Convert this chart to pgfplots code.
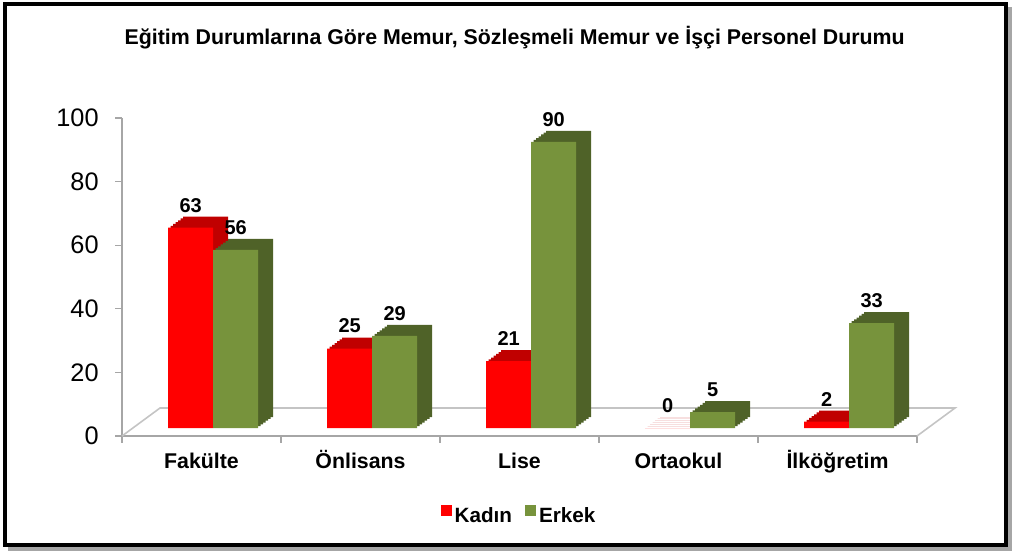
\documentclass[border=0pt]{standalone}
\usepackage{pgfplots}
\usepackage{pgfplotstable}
\pgfplotsset{compat=1.18}
\usepackage{fontspec}
\setmainfont{Liberation Sans}
\definecolor{kred}{HTML}{FF0000}
\definecolor{kredd}{HTML}{C00000}
\definecolor{egreen}{HTML}{77933C}
\definecolor{egreend}{HTML}{4F6228}
\definecolor{axgray}{HTML}{A6A6A6}
\definecolor{floorgray}{HTML}{C4C4C4}
\pgfplotstableread{
x kadin erkek
0 63 56
1 25 29
2 21 90
3 0 5
4 2 33
}\datatable
\begin{document}
\begin{tikzpicture}
\path[use as bounding box] (0,0) rectangle (759pt,413.25pt);
\draw[gray!70, line width=3pt] (6pt,1.5pt) -- (757.5pt,1.5pt) -- (757.5pt,408pt);
\draw[line width=3pt] (3.6pt,4.6pt) rectangle (754.8pt,410.2pt);
\node[font=\fontsize{16}{18}\selectfont\bfseries] at (386pt,384.75pt)
  {Eğitim Durumlarına Göre Memur, Sözleşmeli Memur ve İşçi Personel Durumu};
\begin{axis}[
  at={(91.5pt,86.25pt)}, anchor=south west,
  scale only axis, width=596.25pt, height=238.5pt,
  xmin=-0.5, xmax=4.5, ymin=0, ymax=100,
  axis x line*=bottom, axis y line*=left,
  axis line style={axgray, line width=1pt},
  xtick={0,1,2,3,4},
  xticklabels={Fakülte,Önlisans,Lise,Ortaokul,İlköğretim},
  major x tick style={draw=none},
  minor xtick={-0.5,0.5,1.5,2.5,3.5,4.5},
  ytick={0,20,40,60,80,100},
  tick align=outside,
  tick style={axgray, line width=1pt},
  major tick length=5pt, minor tick length=5pt,
  xticklabel style={font=\fontsize{16}{16}\selectfont\bfseries, yshift=-4pt,
    text height=12pt, text depth=0pt},
  yticklabel style={font=\fontsize{19}{19}\selectfont, xshift=-9pt},
  /pgf/number format/assume math mode=true,
  legend style={at={(0.5,-0.2516)}, anchor=center, draw=none, fill=none,
    legend columns=2, font=\fontsize{15.5}{16}\selectfont\bfseries,
    /tikz/every even column/.append style={column sep=8pt}},
  legend image code/.code={\fill[#1] (-3pt,-6.1pt) rectangle (5.25pt,2.1pt);},
  every node near coord/.append style={font=\fontsize{15}{15}\selectfont\bfseries,
    anchor=south, yshift=8pt, text=black},
  kshadow/.style={ybar, bar width=33.75pt, bar shift=-16.875pt, fill=kredd, draw=none, forget plot},
  eshadow/.style={ybar, bar width=33.75pt, bar shift=16.875pt, fill=egreend, draw=none, forget plot},
  clip=false,
]
\draw[floorgray, line width=1.2pt] (rel axis cs:0,0) -- ++(28.5pt,21pt)
  -- ([xshift=28.5pt,yshift=21pt]rel axis cs:1,0) -- (rel axis cs:1,0);
% Kadin: depth faces then front face
\addplot[kshadow, xshift=20pt, yshift=14.25pt] table[x=x,y=kadin]{\datatable};
\addplot[kshadow, xshift=18.125pt, yshift=12.875pt] table[x=x,y=kadin]{\datatable};
\addplot[kshadow, xshift=16.25pt, yshift=11.5pt] table[x=x,y=kadin]{\datatable};
\addplot[kshadow, xshift=14.375pt, yshift=10.125pt] table[x=x,y=kadin]{\datatable};
\addplot[kshadow, xshift=12.5pt, yshift=8.75pt] table[x=x,y=kadin]{\datatable};
\addplot[kshadow, xshift=10.625pt, yshift=7.375pt] table[x=x,y=kadin]{\datatable};
\addplot[ybar, bar width=33.75pt, bar shift=-16.875pt, fill=kred, draw=none,
  xshift=8.75pt, yshift=6pt, nodes near coords,
  every node near coord/.append style={xshift=-16.875pt}]
  table[x=x,y=kadin]{\datatable};
\addlegendentry{Kadın}
% Erkek: depth faces then front face
\addplot[eshadow, xshift=20pt, yshift=14.25pt] table[x=x,y=erkek]{\datatable};
\addplot[eshadow, xshift=18.125pt, yshift=12.875pt] table[x=x,y=erkek]{\datatable};
\addplot[eshadow, xshift=16.25pt, yshift=11.5pt] table[x=x,y=erkek]{\datatable};
\addplot[eshadow, xshift=14.375pt, yshift=10.125pt] table[x=x,y=erkek]{\datatable};
\addplot[eshadow, xshift=12.5pt, yshift=8.75pt] table[x=x,y=erkek]{\datatable};
\addplot[eshadow, xshift=10.625pt, yshift=7.375pt] table[x=x,y=erkek]{\datatable};
\addplot[ybar, bar width=33.75pt, bar shift=16.875pt, fill=egreen, draw=none,
  xshift=8.75pt, yshift=6pt, nodes near coords,
  every node near coord/.append style={xshift=16.875pt}]
  table[x=x,y=erkek]{\datatable};
\addlegendentry{Erkek}
\end{axis}
\end{tikzpicture}
\end{document}
